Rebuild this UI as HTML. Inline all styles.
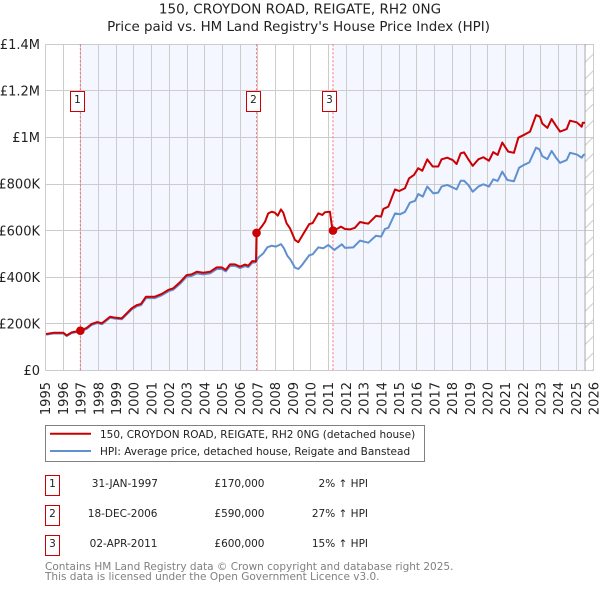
<!DOCTYPE html>
<html lang="en">
<head>
<meta charset="utf-8">
<title>150, CROYDON ROAD, REIGATE, RH2 0NG</title>
<style>
html,body{margin:0;padding:0;background:#fff;}
svg{display:block;font-family:"DejaVu Sans","Liberation Sans",sans-serif;}
</style>
</head>
<body>
<svg id="chart" xmlns="http://www.w3.org/2000/svg" width="600" height="590" viewBox="0 0 600 590">
  <defs>
    <pattern id="hatch" patternUnits="userSpaceOnUse" width="16.6" height="16.6">
      <path d="M0 16.6L16.6 0" stroke="#cccccc" stroke-width="1" fill="none"/>
    </pattern>
  </defs>
  <text x="300" y="13.5" text-anchor="middle" font-size="13.5" fill="#222">150, CROYDON ROAD, REIGATE, RH2 0NG</text>
  <text x="298.5" y="31" text-anchor="middle" font-size="13.4" fill="#222">Price paid vs. HM Land Registry's House Price Index (HPI)</text>
  <g id="plot"></g>

  <rect x="45.5" y="425.5" width="379" height="36" fill="#fff" stroke="#808080" stroke-width="1"/>
  <line x1="50" x2="91" y1="433.8" y2="433.8" stroke="#cc0000" stroke-width="2"/>
  <text x="100" y="438" font-size="10.5" fill="#222">150, CROYDON ROAD, REIGATE, RH2 0NG (detached house)</text>
  <line x1="50" x2="91" y1="451" y2="451" stroke="#6090d0" stroke-width="2"/>
  <text x="100" y="455" font-size="10.5" fill="#222">HPI: Average price, detached house, Reigate and Banstead</text>

  <g font-size="10.5" fill="#222">
    <rect x="45.5" y="475.5" width="14" height="20" fill="#fff" stroke="#cc0000"/>
    <text x="52.5" y="487" text-anchor="middle">1</text>
    <text x="158" y="487" text-anchor="end">31-JAN-1997</text>
    <text x="264.5" y="487" text-anchor="end">£170,000</text>
    <text x="368" y="487" text-anchor="end">2% ↑ HPI</text>
  </g>
  <g font-size="10.5" fill="#222">
    <rect x="45.5" y="505.5" width="14" height="20" fill="#fff" stroke="#cc0000"/>
    <text x="52.5" y="517" text-anchor="middle">2</text>
    <text x="157.5" y="517" text-anchor="end">18-DEC-2006</text>
    <text x="264.5" y="517" text-anchor="end">£590,000</text>
    <text x="368" y="517" text-anchor="end">27% ↑ HPI</text>
  </g>
  <g font-size="10.5" fill="#222">
    <rect x="45.5" y="535.5" width="14" height="20" fill="#fff" stroke="#cc0000"/>
    <text x="52.5" y="547" text-anchor="middle">3</text>
    <text x="157.5" y="547" text-anchor="end">02-APR-2011</text>
    <text x="264.5" y="547" text-anchor="end">£600,000</text>
    <text x="368" y="547" text-anchor="end">15% ↑ HPI</text>
  </g>

  <text x="45" y="570" font-size="10.5" fill="#808080">Contains HM Land Registry data © Crown copyright and database right 2025.</text>
  <text x="45" y="580" font-size="10.5" fill="#808080">This data is licensed under the Open Government Licence v3.0.</text>
</svg>
<script>
const yearTicks = [1995,1996,1997,1998,1999,2000,2001,2002,2003,2004,2005,2006,2007,2008,2009,2010,2011,2012,2013,2014,2015,2016,2017,2018,2019,2020,2021,2022,2023,2024,2025,2026];
const valueTicks = [0,200,400,600,800,1000,1200,1400];
const valueTickLabels = ['£0','£200K','£400K','£600K','£800K','£1M','£1.2M','£1.4M'];
const saleDates = [1996.97,2006.93,2011.25];
const salePrices = [170,590,600];
const saleNumbers = ['1','2','3'];
const dataEndYear = 2025.5;
const paidDates = [1995.03,1995.44,1996.01,1996.20,1996.48,1996.76,1996.97,1997.33,1997.61,1997.93,1998.19,1998.65,1998.93,1999.31,1999.87,2000.16,2000.40,2000.68,2001.19,2001.57,2001.94,2002.22,2002.60,2002.98,2003.26,2003.55,2003.92,2004.30,2004.68,2004.96,2005.19,2005.43,2005.71,2006.00,2006.28,2006.46,2006.69,2006.90,2006.93,2007.22,2007.41,2007.59,2007.79,2007.97,2008.13,2008.31,2008.44,2008.63,2008.82,2009.10,2009.29,2009.48,2009.91,2010.10,2010.42,2010.65,2010.80,2011.08,2011.18,2011.25,2011.55,2011.70,2011.93,2012.21,2012.49,2012.78,2013.06,2013.25,2013.68,2013.97,2014.10,2014.38,2014.76,2015.00,2015.32,2015.55,2015.83,2016.07,2016.30,2016.58,2016.89,2017.20,2017.39,2017.71,2018.02,2018.24,2018.47,2018.66,2018.87,2019.15,2019.47,2019.75,2020.07,2020.31,2020.56,2020.82,2021.16,2021.48,2021.73,2022.10,2022.39,2022.73,2022.95,2023.08,2023.37,2023.61,2023.86,2024.09,2024.46,2024.65,2025.03,2025.31,2025.37,2025.50];
const paidValues = [156,161,161,150,163,167,170,182,199,207,202,230,226,223,266,280,285,316,316,328,345,352,378,409,412,423,419,423,442,442,431,455,455,445,454,449,469,468,590,617,638,674,681,677,664,691,677,631,610,560,550,574,628,632,674,667,679,681,624,600,610,617,607,605,612,637,632,630,663,660,693,703,777,770,782,824,839,868,857,906,875,875,906,913,903,886,932,936,910,878,906,915,900,937,925,978,939,934,999,1013,1025,1096,1089,1060,1041,1079,1050,1025,1036,1072,1065,1046,1063,1063];
const hpiDates = [1995.03,1995.44,1996.01,1996.20,1996.48,1996.76,1996.97,1997.33,1997.61,1997.93,1998.19,1998.65,1998.93,1999.31,1999.87,2000.16,2000.40,2000.68,2001.19,2001.57,2001.94,2002.22,2002.60,2002.98,2003.26,2003.55,2003.92,2004.30,2004.68,2004.96,2005.19,2005.43,2005.71,2006.00,2006.28,2006.46,2006.69,2006.88,2007.03,2007.31,2007.54,2007.79,2008.03,2008.31,2008.48,2008.67,2008.86,2009.10,2009.29,2009.48,2009.91,2010.10,2010.42,2010.70,2010.99,2011.33,2011.75,2011.93,2012.40,2012.78,2013.25,2013.68,2013.97,2014.19,2014.38,2014.76,2015.04,2015.32,2015.60,2015.89,2016.07,2016.33,2016.58,2016.92,2017.20,2017.39,2017.71,2018.24,2018.47,2018.66,2018.90,2019.15,2019.47,2019.75,2020.07,2020.31,2020.56,2020.82,2021.11,2021.48,2021.77,2022.05,2022.35,2022.73,2022.92,2023.08,2023.37,2023.61,2023.86,2024.09,2024.46,2024.65,2025.03,2025.31,2025.41,2025.50];
const hpiValues = [153,158,158,147,160,164,167,178,195,203,198,226,222,219,261,275,280,310,310,322,339,346,371,402,405,416,412,416,435,435,425,448,449,439,447,443,462,464,484,502,528,535,531,542,524,492,474,441,435,450,494,498,528,524,538,517,541,526,528,557,548,578,574,607,612,674,670,680,720,728,757,746,789,760,763,789,796,777,814,814,796,767,789,799,789,820,813,853,817,812,870,882,893,956,949,920,907,942,913,891,903,934,927,913,925,927];

const NS = 'http://www.w3.org/2000/svg';
const plot = document.getElementById('plot');
const xScale = function (year) { return 45.5 + (year - 1995) * 17.69; };
const yScale = function (value) { return 370.3 - value * 0.23285; };
const snap = function (p) { return Math.round(p - 0.5) + 0.5; };
const make = function (tag, attrs) {
  const el = document.createElementNS(NS, tag);
  Object.keys(attrs).forEach(function (k) { el.setAttribute(k, attrs[k]); });
  plot.appendChild(el);
  return el;
};
const plotTop = yScale(1400), plotBottom = yScale(0), plotLeft = xScale(1995), plotRight = xScale(2026);

const band1 = make('rect', {x: xScale(saleDates[0]), y: plotTop, width: xScale(saleDates[1]) - xScale(saleDates[0]), height: plotBottom - plotTop, fill: '#f4f7ff'});


const band2 = make('rect', {x: xScale(saleDates[2]), y: plotTop, width: xScale(dataEndYear) - xScale(saleDates[2]), height: plotBottom - plotTop, fill: '#f4f7ff'});


const hatch = make('rect', {x: xScale(dataEndYear), y: plotTop, width: plotRight - xScale(dataEndYear), height: plotBottom - plotTop, fill: 'url(#hatch)'});



yearTicks.forEach(function (yr) {
  const gx = snap(xScale(yr));
  const line = make('line', {x1: gx, x2: gx, y1: plotTop, y2: plotBottom, stroke: '#cccccc', 'stroke-width': 1, 'shape-rendering': 'crispEdges'});
  
  
  const label = make('text', {transform: 'translate(' + (xScale(yr) + 4.7) + ',382) rotate(-90)', 'text-anchor': 'end', 'font-size': 13, fill: '#222'});
  label.textContent = yr;
  
  
});
valueTicks.forEach(function (v, i) {
  const gy = snap(yScale(v));
  const line = make('line', {x1: plotLeft, x2: plotRight, y1: gy, y2: gy, stroke: '#cccccc', 'stroke-width': 1, 'shape-rendering': 'crispEdges'});
  
  
  const label = make('text', {x: 40, y: yScale(v) + 4.7, 'text-anchor': 'end', 'font-size': 13, fill: '#222'});
  label.textContent = valueTickLabels[i];
  
  
});
const endLine = make('line', {x1: xScale(dataEndYear), x2: xScale(dataEndYear), y1: plotTop, y2: plotBottom, stroke: '#a8a8a8', 'stroke-width': 1});



saleDates.forEach(function (d) {
  const sx = xScale(d);
  const rule = make('line', {x1: sx, x2: sx, y1: plotTop, y2: plotBottom, stroke: '#ff5555', 'stroke-width': 1, 'stroke-dasharray': '2 2', 'stroke-opacity': 0.85});
  
  
});

const toPath = function (dates, values) {
  return dates.map(function (d, i) {
    return (i ? 'L' : 'M') + xScale(d).toFixed(2) + ' ' + yScale(values[i]).toFixed(2);
  }).join('');
};
const hpiLine = make('path', {d: toPath(hpiDates, hpiValues), fill: 'none', stroke: '#6090d0', 'stroke-width': 2, 'stroke-linejoin': 'round'});


const paidLine = make('path', {d: toPath(paidDates, paidValues), fill: 'none', stroke: '#cc0000', 'stroke-width': 2, 'stroke-linejoin': 'round'});



saleDates.forEach(function (d, i) {
  const dot = make('circle', {cx: xScale(d), cy: yScale(salePrices[i]), r: 4.3, fill: '#cc0000'});
  
  
  const box = make('rect', {x: snap(xScale(d) - 10), y: 91.5, width: 14, height: 20, fill: '#fff', stroke: '#cc0000', 'stroke-width': 1});
  
  
  const num = make('text', {x: snap(xScale(d) - 10) + 7, y: 103, 'text-anchor': 'middle', 'font-size': 10.5, fill: '#222'});
  num.textContent = saleNumbers[i];
  
  
});
</script>
</body>
</html>
